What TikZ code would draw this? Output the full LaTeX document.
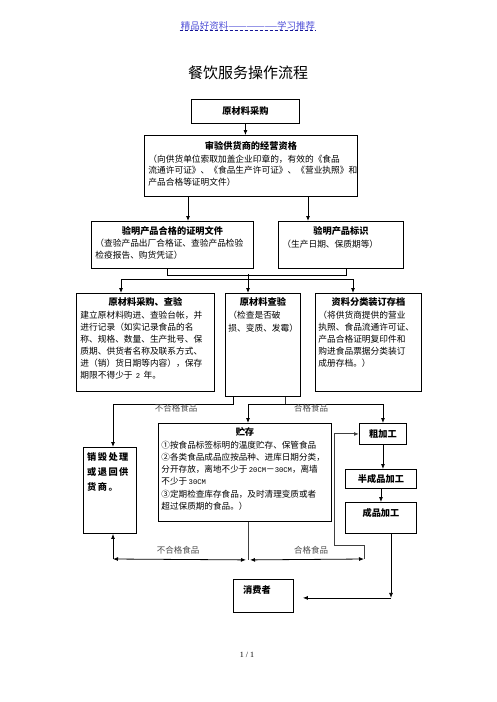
\documentclass[tikz,border=0pt]{standalone}
\usepackage{graphicx}
\usepackage{fontspec}
\setmainfont{Noto Sans CJK SC}
\newfontfamily\latinserif{Liberation Serif}
\newfontfamily\latinmono{Liberation Mono}
\newfontfamily\spacedcjk[LetterSpace=16]{Noto Sans CJK SC}
\usetikzlibrary{arrows.meta}
\definecolor{hdrblue}{RGB}{80,80,215}
\definecolor{hdrline}{RGB}{20,20,150}
\newcommand\ttlf{\fontsize{9.2pt}{12pt}\selectfont\bfseries}
\newcommand\bodyf{\fontsize{8.7pt}{11.8pt}\selectfont\mdseries}
\newcommand\mono[1]{{\latinmono\fontsize{7.2pt}{9pt}\selectfont #1}}
\begin{document}
\begin{tikzpicture}[x=1pt,y=-1pt,
  box/.style={draw=black, line width=0.9pt, anchor=north west, inner sep=0pt},
  txt/.style={anchor=north, inner sep=0pt},
  conn/.style={line width=0.8pt, -{Latex[length=5pt,width=4pt]}},
  dconn/.style={line width=0.8pt, {Latex[length=5pt,width=4pt]}-{Latex[length=5pt,width=4pt]}},
  plain/.style={line width=0.8pt},
  lbl/.style={font=\fontsize{8.5pt}{10pt}\selectfont, text=black!70, inner sep=0pt}
]
\path[use as bounding box] (0,0) rectangle (496,702);

% header and title
\node[font=\fontsize{9.5pt}{11pt}\selectfont, text=hdrblue, inner sep=1pt] (hdr) at (248,26)
  {精品好资料\scalebox{0.78}[1]{————————}学习推荐};
\draw[hdrline, line width=0.7pt, dash pattern=on 3pt off 2pt] ([yshift=1pt]hdr.south west) -- ([yshift=1pt]hdr.south east);
\node[font=\fontsize{15pt}{18pt}\selectfont] (title) at (248,73) {餐饮服务操作流程};

% boxes
\node[box, minimum width=108pt, minimum height=24pt, font=\ttlf] (b1) at (191,99) {原材料采购};

\node[box, minimum width=213pt, minimum height=61pt] (b2) at (144,135) {};
\node[txt, text width=205pt] (t2) at ([yshift=-6pt]b2.north)
  {\centering\ttlf 审验供货商的经营资格\par\vspace{1pt}\raggedright\bodyf
   （向供货单位索取加盖企业印章的，有效的《食品\\
   流通许可证》、《食品生产许可证》、《营业执照》和\\
   产品合格等证明文件）};

\node[box, minimum width=162pt, minimum height=47pt] (b3) at (91,221) {};
\node[txt, text width=154pt] (t3) at ([yshift=-5pt]b3.north)
  {\centering\ttlf 验明产品合格的证明文件\par\vspace{1pt}\raggedright\bodyf
   （查验产品出厂合格证、查验产品检验\\
   检疫报告、购货凭证）};

\node[box, minimum width=125pt, minimum height=47pt] (b4) at (278,221) {};
\node[txt, text width=117pt] (t4) at ([yshift=-5pt]b4.north)
  {\centering\ttlf 验明产品标识\par\vspace{1pt}\raggedright\bodyf
   （生产日期、保质期等）};

\node[box, minimum width=138pt, minimum height=98pt] (b5) at (76,293) {};
\node[txt, text width=130pt] (t5) at ([yshift=-4pt]b5.north)
  {\centering\ttlf 原材料采购、查验\par\vspace{2pt}\raggedright\bodyf
   建立原材料购进、查验台帐，并\\
   进行记录（如实记录食品的名\\
   称、规格、数量、生产批号、保\\
   质期、供货者名称及联系方式、\\
   进（销）货日期等内容），保存\\
   期限不得少于 \mono{2} 年。};

\node[box, minimum width=75pt, minimum height=103pt] (b6) at (225,293) {};
\node[txt, text width=69pt] (t6) at ([yshift=-4pt]b6.north)
  {\centering\ttlf 原材料查验\par\vspace{2pt}\raggedright\bodyf
   （检查是否破\\
   损、变质、发霉）};

\node[box, minimum width=106pt, minimum height=98pt] (b7) at (315,293) {};
\node[txt, text width=100pt] (t7) at ([yshift=-4pt]b7.north)
  {\centering\ttlf 资料分类装订存档\par\vspace{2pt}\raggedright\bodyf
   （将供货商提供的营业\\
   执照、食品流通许可证、\\
   产品合格证明复印件和\\
   购进食品票据分类装订\\
   成册存档。）};

\node[box, minimum width=53pt, minimum height=86pt] (b8) at (83,447) {};
\node[anchor=north west, inner sep=0pt, align=left,
      font=\spacedcjk\fontsize{9.2pt}{15pt}\selectfont\bfseries] (t8) at ([xshift=4pt,yshift=-5pt]b8.north west)
  {销毁处理\\或退回供\\货商。};

\node[box, minimum width=173pt, minimum height=98pt] (b9) at (158,423) {};
\node[txt, text width=167pt] (t9) at ([yshift=-4pt]b9.north)
  {\centering\ttlf 贮存\par\vspace{1pt}\raggedright\fontsize{8.6pt}{12.2pt}\selectfont\mdseries
   ①按食品标签标明的温度贮存、保管食品\\
   ②各类食品成品应按品种、进库日期分类，\\
   \mbox{分开存放，离地不少于\,\mono{20CM}－\mono{30CM}，离墙}\\
   不少于\,\mono{30CM}\\
   ③定期检查库存食品，及时清理变质或者\\
   超过保质期的食品。）};

\node[box, minimum width=47pt, minimum height=21pt, font=\ttlf] (b10) at (359,423) {粗加工};
\node[box, minimum width=71pt, minimum height=19pt, font=\ttlf] (b11) at (345,469) {半成品加工};
\node[box, minimum width=71pt, minimum height=31pt] (b12) at (345,502) {};
\node[txt, font=\ttlf] (t12) at ([yshift=-6pt]b12.north) {成品加工};

\node[box, minimum width=60pt, minimum height=33pt] (b13) at (233,579) {};
\node[anchor=north west, inner sep=0pt, font=\ttlf] (t13) at ([xshift=10pt,yshift=-6pt]b13.north west) {消费者};

% connectors, top part
\draw[conn] (b1.south) -- (b1.south |- b2.north);
\draw[conn] ([xshift=44pt]b2.south west) -- ([xshift=44pt]b2.south west |- b3.north);
\draw[conn] ([xshift=164pt]b2.south west) -- ([xshift=164pt]b2.south west |- b4.north);
\draw[plain] ([xshift=76pt]b3.south west) -- ++(0,6) coordinate (k1) -| ([xshift=68pt]b4.south west);
\coordinate (j1) at (248,274);
\coordinate (j2) at (248,279);
\draw[plain] (j1) -- (j2);
\draw[conn] (j2) -| ([xshift=45pt]b5.north west);
\draw[conn] (j2) -- ([xshift=23pt]b6.north west);
\draw[conn] (j2) -| ([xshift=38pt]b7.north west);

% from inspection
\draw[conn] ([xshift=8pt]b6.south west) -- ++(0,7) -| ([xshift=30pt]b8.north west);
\draw[plain, black!80] ([xshift=60pt]b6.south west) -- ++(0,7) coordinate (j3);
\draw[conn] (j3) -| ([xshift=90pt]b9.north west);
\draw[conn] (j3) -| (b10.north);
\node[lbl] (l1) at (176,408) {不合格食品};
\node[lbl] (l2) at (311,408) {合格食品};

% processing chain
\draw[conn] (b10.south) -- (b10.south |- b11.north);
\draw[conn] (b11.south) -- (b11.south |- b12.north);

% from storage
\draw[plain, black!75] ([xshift=90pt]b9.south west) -- ++(0,38) coordinate (j4);
\coordinate (j5) at (364,559);
\coordinate (j6) at (113,559);
\draw[dconn] ([xshift=-2pt]j4) -- (j6);
\draw[conn] (j6) -- ([xshift=30pt]b8.south west);
\draw[dconn] ([xshift=2pt]j4) -- (j5);
\draw[conn, black!75, line width=1pt] (j5) -- ++(0,-14) -- ++(-30,0) |- (b10.west);
\node[lbl] (l3) at (178,550) {不合格食品};
\node[lbl] (l4) at (311,550) {合格食品};

% to consumer
\draw[conn] ([xshift=46pt]b12.south west) -- ++(0,64) coordinate (j7);
\draw[conn] (j7) -- ([xshift=9pt]b13.east |- j7);

% page number
\node[font=\latinserif\fontsize{8pt}{9pt}\selectfont] (pg) at (247,655) {1 / 1};
\end{tikzpicture}
\end{document}
